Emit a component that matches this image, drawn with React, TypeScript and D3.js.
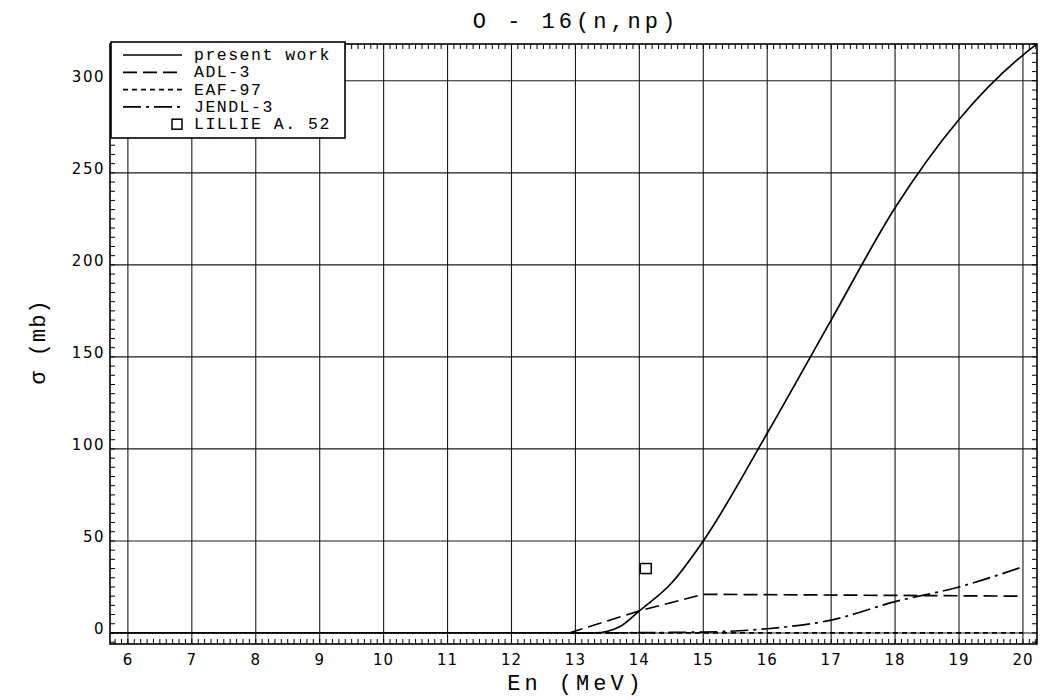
import React from "react";
import * as d3 from "d3";

// O-16(n,np) cross section, energies in MeV, sigma in mb
const presentWorkE = [5.72, 13.3, 13.7, 14.0, 14.5, 15.0, 16.0, 17.0, 18.0, 19.0, 20.0, 20.22];
const presentWorkS = [0, 0, 3.5, 12, 27, 50, 108.5, 170, 231, 279, 314, 320];

const adl3E = [12.9, 14.0, 15.0, 20.0];
const adl3S = [0, 12, 21, 20];

const eaf97E = [12.9, 20.0];
const eaf97S = [0, 0];

const jendl3E = [13.0, 15.0, 16.0, 17.0, 18.0, 19.0, 20.0];
const jendl3S = [0, 0.5, 2.3, 7, 17, 25, 36];

const lillieE = [14.1];
const lillieS = [35];

const xTickValues = [6, 7, 8, 9, 10, 11, 12, 13, 14, 15, 16, 17, 18, 19, 20];
const yTickValues = [0, 50, 100, 150, 200, 250, 300];

const legendItems = [
  { label: "present work", dash: "" },
  { label: "ADL-3", dash: "14,6" },
  { label: "EAF-97", dash: "5,4" },
  { label: "JENDL-3", dash: "18,5,3,5" },
];

const W = 1042;
const H = 700;
const left = 110;
const right = 1037;
const top = 44;
const bottom = 644;

export default function App() {
  const x = d3.scaleLinear().domain([5.72, 20.22]).range([left, right]);
  const y = d3.scaleLinear().domain([-6, 320]).range([bottom, top]);

  const line = d3
    .line<[number, number]>()
    .x((d) => x(d[0]))
    .y((d) => y(d[1]));

  const smooth = d3
    .line<[number, number]>()
    .x((d) => x(d[0]))
    .y((d) => y(d[1]))
    .curve(d3.curveMonotoneX);

  const pts = (e: number[], s: number[]) => e.map((v, i) => [v, s[i]] as [number, number]);

  const xMinor = d3.range(58, 203).map((v) => v / 10);
  const yMinor = d3.range(-5, 321, 5);

  const tickFont = "'DejaVu Sans', sans-serif";
  const monoFont = "'Liberation Mono', 'DejaVu Sans Mono', monospace";

  const legX = 111;
  const legY = 42;
  const legW = 234;
  const legH = 96;

  return (
    <svg
      width={W}
      height={H}
      style={{ position: "absolute", left: 0, top: 0, background: "#fff" }}
    >
      <defs>
        <clipPath id="plotClip">
          <rect x={left} y={top} width={right - left} height={bottom - top} />
        </clipPath>
      </defs>

      {/* grid */}
      <g stroke="#1a1a1a" strokeWidth={1.1}>
        {xTickValues.map((v) => (
          <line key={"gx" + v} x1={x(v)} x2={x(v)} y1={top} y2={bottom} />
        ))}
        {yTickValues.map((v) => (
          <line key={"gy" + v} x1={left} x2={right} y1={y(v)} y2={y(v)} />
        ))}
      </g>

      {/* minor ticks on all four sides */}
      <g stroke="#000" strokeWidth={1}>
        {xMinor.map((v) => (
          <g key={"tx" + v}>
            <line x1={x(v)} x2={x(v)} y1={bottom} y2={bottom - 5} />
            <line x1={x(v)} x2={x(v)} y1={top} y2={top + 5} />
          </g>
        ))}
        {yMinor.map((v) => (
          <g key={"ty" + v}>
            <line x1={left} x2={left + 5} y1={y(v)} y2={y(v)} />
            <line x1={right} x2={right - 5} y1={y(v)} y2={y(v)} />
          </g>
        ))}
      </g>

      {/* curves */}
      <g clipPath="url(#plotClip)" fill="none" stroke="#000" strokeWidth={1.7}>
        <path d={line(pts(eaf97E, eaf97S)) || ""} strokeDasharray="5,4" />
        <path d={smooth(pts(jendl3E, jendl3S)) || ""} strokeDasharray="18,5,3,5" />
        <path d={line(pts(adl3E, adl3S)) || ""} strokeDasharray="14,6" />
        <path d={smooth(pts(presentWorkE, presentWorkS)) || ""} />
        {lillieE.map((e, i) => (
          <rect
            key={"ll" + i}
            x={x(e) - 5.5}
            y={y(lillieS[i]) - 5}
            width={11}
            height={10}
            strokeWidth={1.5}
          />
        ))}
      </g>

      {/* frame */}
      <rect
        x={left}
        y={top}
        width={right - left}
        height={bottom - top}
        fill="none"
        stroke="#000"
        strokeWidth={1.6}
      />

      {/* x tick labels */}
      <g fontFamily={tickFont} fontSize={15} textAnchor="middle" fill="#000">
        {xTickValues.map((v) => (
          <text key={"lx" + v} x={x(v)} y={665} letterSpacing={1}>
            {v}
          </text>
        ))}
      </g>

      {/* y tick labels */}
      <g fontFamily={tickFont} fontSize={15} textAnchor="end" fill="#000">
        {yTickValues.map((v) => (
          <text key={"ly" + v} x={105} y={y(v) + 1} letterSpacing={1.5}>
            {v}
          </text>
        ))}
      </g>

      {/* title and axis titles */}
      <text
        x={576}
        y={28}
        textAnchor="middle"
        fontFamily={monoFont}
        fontSize={22}
        letterSpacing={4}
      >
        O - 16(n,np)
      </text>
      <text
        x={576}
        y={690}
        textAnchor="middle"
        fontFamily={monoFont}
        fontSize={22}
        letterSpacing={4}
      >
        En (MeV)
      </text>
      <text
        transform={`translate(45, 342) rotate(-90)`}
        textAnchor="middle"
        fontFamily={monoFont}
        fontSize={22}
        letterSpacing={1}
      >
        σ (mb)
      </text>

      {/* legend */}
      <g>
        <rect
          x={legX}
          y={legY}
          width={legW}
          height={legH}
          fill="#fff"
          stroke="#000"
          strokeWidth={1.6}
        />
        {legendItems.map((it, i) => {
          const ly = 55 + i * 17.3;
          return (
            <g key={"leg" + i}>
              <line
                x1={123}
                x2={182}
                y1={ly}
                y2={ly}
                stroke="#000"
                strokeWidth={1.7}
                strokeDasharray={it.dash || undefined}
              />
              <text
                x={194}
                y={ly + 5}
                fontFamily={monoFont}
                fontSize={16.5}
                letterSpacing={1.5}
                fill="#000"
              >
                {it.label}
              </text>
            </g>
          );
        })}
        <rect
          x={172}
          y={55 + 4 * 17.3 - 5}
          width={10}
          height={10}
          fill="none"
          stroke="#000"
          strokeWidth={1.5}
        />
        <text
          x={194}
          y={55 + 4 * 17.3 + 5}
          fontFamily={monoFont}
          fontSize={16.5}
          letterSpacing={1.5}
          fill="#000"
        >
          LILLIE A. 52
        </text>
      </g>
    </svg>
  );
}
